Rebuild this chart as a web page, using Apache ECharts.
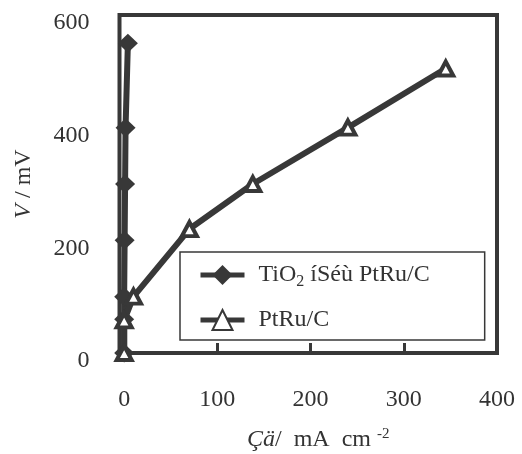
<!DOCTYPE html>
<html>
<head>
<meta charset="utf-8">
<script src="https://cdn.jsdelivr.net/npm/echarts@6/dist/echarts.min.js"></script>
<style>
html,body{margin:0;padding:0;background:#fff;}
#chart{width:522px;height:454px;}
</style>
</head>
<body>
<div id="chart"></div>
<script>
// Data
const tio2Current = [0, 0, 0, 0.5, 1, 1.5, 4];        // mA cm-2
const tio2Voltage = [0, 60, 100, 200, 300, 400, 550];  // mV
const ptruCurrent = [0, 0, 10, 70, 138, 240, 345];
const ptruVoltage = [0, 58, 100, 220, 300, 400, 505];
const xTickLabels = [0, 100, 200, 300, 400];
const xInnerTicks = [100, 200, 300];
const seriesNames = ['TiO{sub|2} íSéù PtRu/C', 'PtRu/C'];

const ink = '#383838';
const textInk = '#333';
const serif = '"Liberation Serif", "Times New Roman", serif';

const chart = echarts.init(document.getElementById('chart'), null, {renderer: 'canvas'});
const pair = (xs, ys) => xs.map((x, i) => [x, ys[i]]);

chart.setOption({
  animation: false,
  backgroundColor: '#fff',
  grid: {
    left: 119.5, right: 25, top: 15, bottom: 101,
    outerBoundsMode: 'none', containLabel: false,
    show: true, borderWidth: 4, borderColor: ink, backgroundColor: 'transparent'
  },
  xAxis: {
    type: 'value', min: -5, max: 400,
    axisLine: {show: false},
    splitLine: {show: false},
    axisTick: {show: true, inside: true, length: 10, customValues: xInnerTicks,
      lineStyle: {color: ink, width: 3}},
    axisLabel: {customValues: xTickLabels, margin: 35, color: textInk,
      fontFamily: serif, fontSize: 24},
    name: '{i|Çä}/  mA  cm {sup|-2}',
    nameLocation: 'middle', nameGap: 74,
    nameTextStyle: {
      color: textInk, fontFamily: serif, fontSize: 24, padding: [0, 0, 0, 20],
      rich: {
        i: {fontStyle: 'italic', fontFamily: serif, fontSize: 24, color: textInk},
        sup: {fontFamily: serif, fontSize: 15, color: textInk, padding: [0, 0, 10, 0]}
      }
    }
  },
  yAxis: {
    type: 'value', min: 0, max: 600, interval: 200,
    axisLine: {show: false},
    splitLine: {show: false},
    axisTick: {show: false},
    axisLabel: {margin: 30, color: textInk, fontFamily: serif, fontSize: 24,
      verticalAlign: 'top', lineHeight: 16},
    name: '{i|V} / mV',
    nameLocation: 'middle', nameRotate: 90, nameGap: 84,
    nameTextStyle: {
      color: textInk, fontFamily: serif, fontSize: 24,
      rich: {i: {fontStyle: 'italic', fontFamily: serif, fontSize: 24, color: textInk}}
    }
  },
  legend: {
    left: 180, top: 252,
    orient: 'vertical',
    itemWidth: 44, itemHeight: 25, itemGap: 18,
    padding: [11, 55, 8, 18],
    borderColor: ink, borderWidth: 1.5, backgroundColor: '#fff',
    lineStyle: {width: 5},
    textStyle: {
      color: textInk, fontFamily: serif, fontSize: 24, padding: [0, 0, 0, 9],
      rich: {
        sub: {fontFamily: serif, fontSize: 16, color: textInk, padding: [14, 0, 0, 0]}
      }
    },
    data: seriesNames
  },
  series: [
    {
      name: seriesNames[0], type: 'line',
      data: pair(tio2Current, tio2Voltage),
      symbol: 'diamond', symbolSize: [20, 19],
      lineStyle: {color: ink, width: 6},
      itemStyle: {color: ink, borderColor: ink, borderWidth: 0},
      z: 2
    },
    {
      name: seriesNames[1], type: 'line',
      data: pair(ptruCurrent, ptruVoltage),
      symbol: 'triangle', symbolSize: [15, 14],
      lineStyle: {color: ink, width: 6},
      itemStyle: {color: '#fff', borderColor: ink, borderWidth: 4},
      z: 3
    }
  ]
});
</script>
</body>
</html>
